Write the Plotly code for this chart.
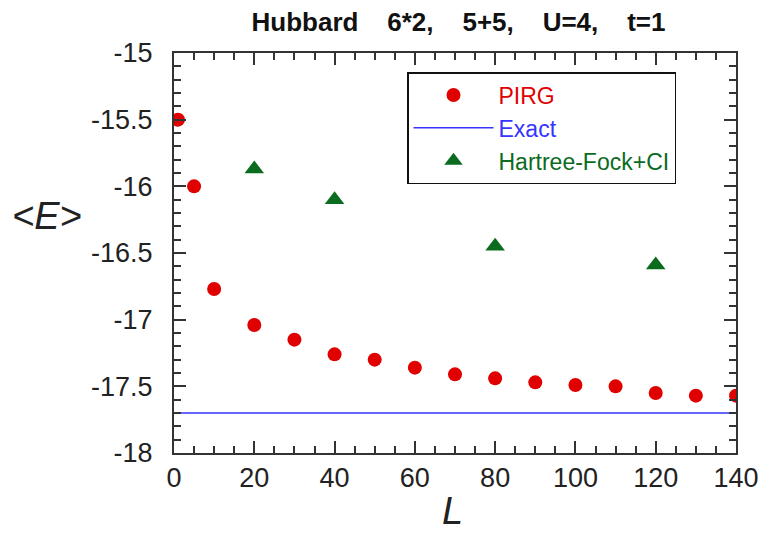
import plotly.graph_objects as go

# PIRG energies vs. number of basis states L
pirg_L = [1, 5, 10, 20, 30, 40, 50, 60, 70, 80, 90, 100, 110, 120, 130, 140]
pirg_E = [-15.50, -16.00, -16.77, -17.04, -17.15, -17.26, -17.30, -17.36,
          -17.41, -17.44, -17.47, -17.49, -17.50, -17.55, -17.57, -17.57]

# Hartree-Fock + CI energies
hfci_L = [20, 40, 80, 120]
hfci_E = [-15.87, -16.10, -16.45, -16.59]

# Exact ground-state energy
exact_E = -17.70
exact_L = [0, 140]

x_ticks = [0, 20, 40, 60, 80, 100, 120, 140]
y_ticks = [-15, -15.5, -16, -16.5, -17, -17.5, -18]

RED = "#e00000"
BLUE = "#3535ff"
GREEN = "#0b6b1f"
AXIS = "#333333"
SANS = "Liberation Sans, Arial"
TICKFONT = dict(family=SANS, size=27, color="#222222")
nb = "\u00a0"

fig = go.Figure()
fig.add_trace(go.Scatter(
    x=pirg_L, y=pirg_E, mode="markers",
    name=f"<span style='color:{RED}'>PIRG</span>",
    marker=dict(symbol="circle", size=14, color=RED),
))
fig.add_trace(go.Scatter(
    x=exact_L, y=[exact_E] * len(exact_L), mode="lines",
    name=f"<span style='color:{BLUE}'>Exact</span>",
    line=dict(color=BLUE, width=1.5),
))
fig.add_trace(go.Scatter(
    x=hfci_L, y=hfci_E, mode="markers",
    name=f"<span style='color:{GREEN}'>Hartree-Fock+CI</span>",
    marker=dict(symbol="triangle-up", size=17, color=GREEN),
))

axis_common = dict(
    showline=True, linecolor=AXIS, linewidth=2, mirror="allticks",
    ticks="inside", ticklen=12, tickwidth=1.5, tickcolor=AXIS,
    showgrid=False, zeroline=False, tickfont=TICKFONT, automargin=False,
)

fig.update_xaxes(
    range=[0, 140], tickvals=x_ticks, ticktext=[str(v) for v in x_ticks],
    minor=dict(dtick=5, ticks="inside", ticklen=7, tickwidth=1.5, tickcolor=AXIS),
    ticklabelstandoff=0,
    **axis_common,
)
fig.update_yaxes(
    range=[-18, -15], tickvals=y_ticks, ticktext=[f"{v:g}" for v in y_ticks],
    minor=dict(dtick=0.1, ticks="inside", ticklen=7, tickwidth=1.5, tickcolor=AXIS),
    ticklabelstandoff=14,
    **axis_common,
)

title = f"Hubbard{nb*4}6*2,{nb*4}5+5,{nb*4}U=4,{nb*4}t=1"

fig.update_layout(
    width=760, height=538,
    margin=dict(l=174, r=24, t=53, b=85),
    paper_bgcolor="white", plot_bgcolor="white",
    title=dict(text=f"<b>{title}</b>", x=0.6033, xanchor="center", y=0.959, yanchor="middle",
               font=dict(family=SANS, size=26, color="#111111")),
    showlegend=True,
    legend=dict(
        x=0.4146, y=0.9525, xanchor="left", yanchor="top",
        bordercolor="#111111", borderwidth=1.5, bgcolor="white",
        font=dict(family=SANS, size=23),
        itemwidth=80, tracegroupgap=0,
    ),
    annotations=[
        dict(text="<i>&lt;E&gt;</i>", xref="paper", yref="paper", x=-0.226, y=0.5925,
             xanchor="center", yanchor="middle", showarrow=False,
             font=dict(family=SANS, size=38, color="#222222")),
        dict(text="<i>L</i>", xref="paper", yref="paper", x=0.495, y=-0.145,
             xanchor="center", yanchor="middle", showarrow=False,
             font=dict(family=SANS, size=38, color="#222222")),
    ],
)

fig.write_html("out.html")
